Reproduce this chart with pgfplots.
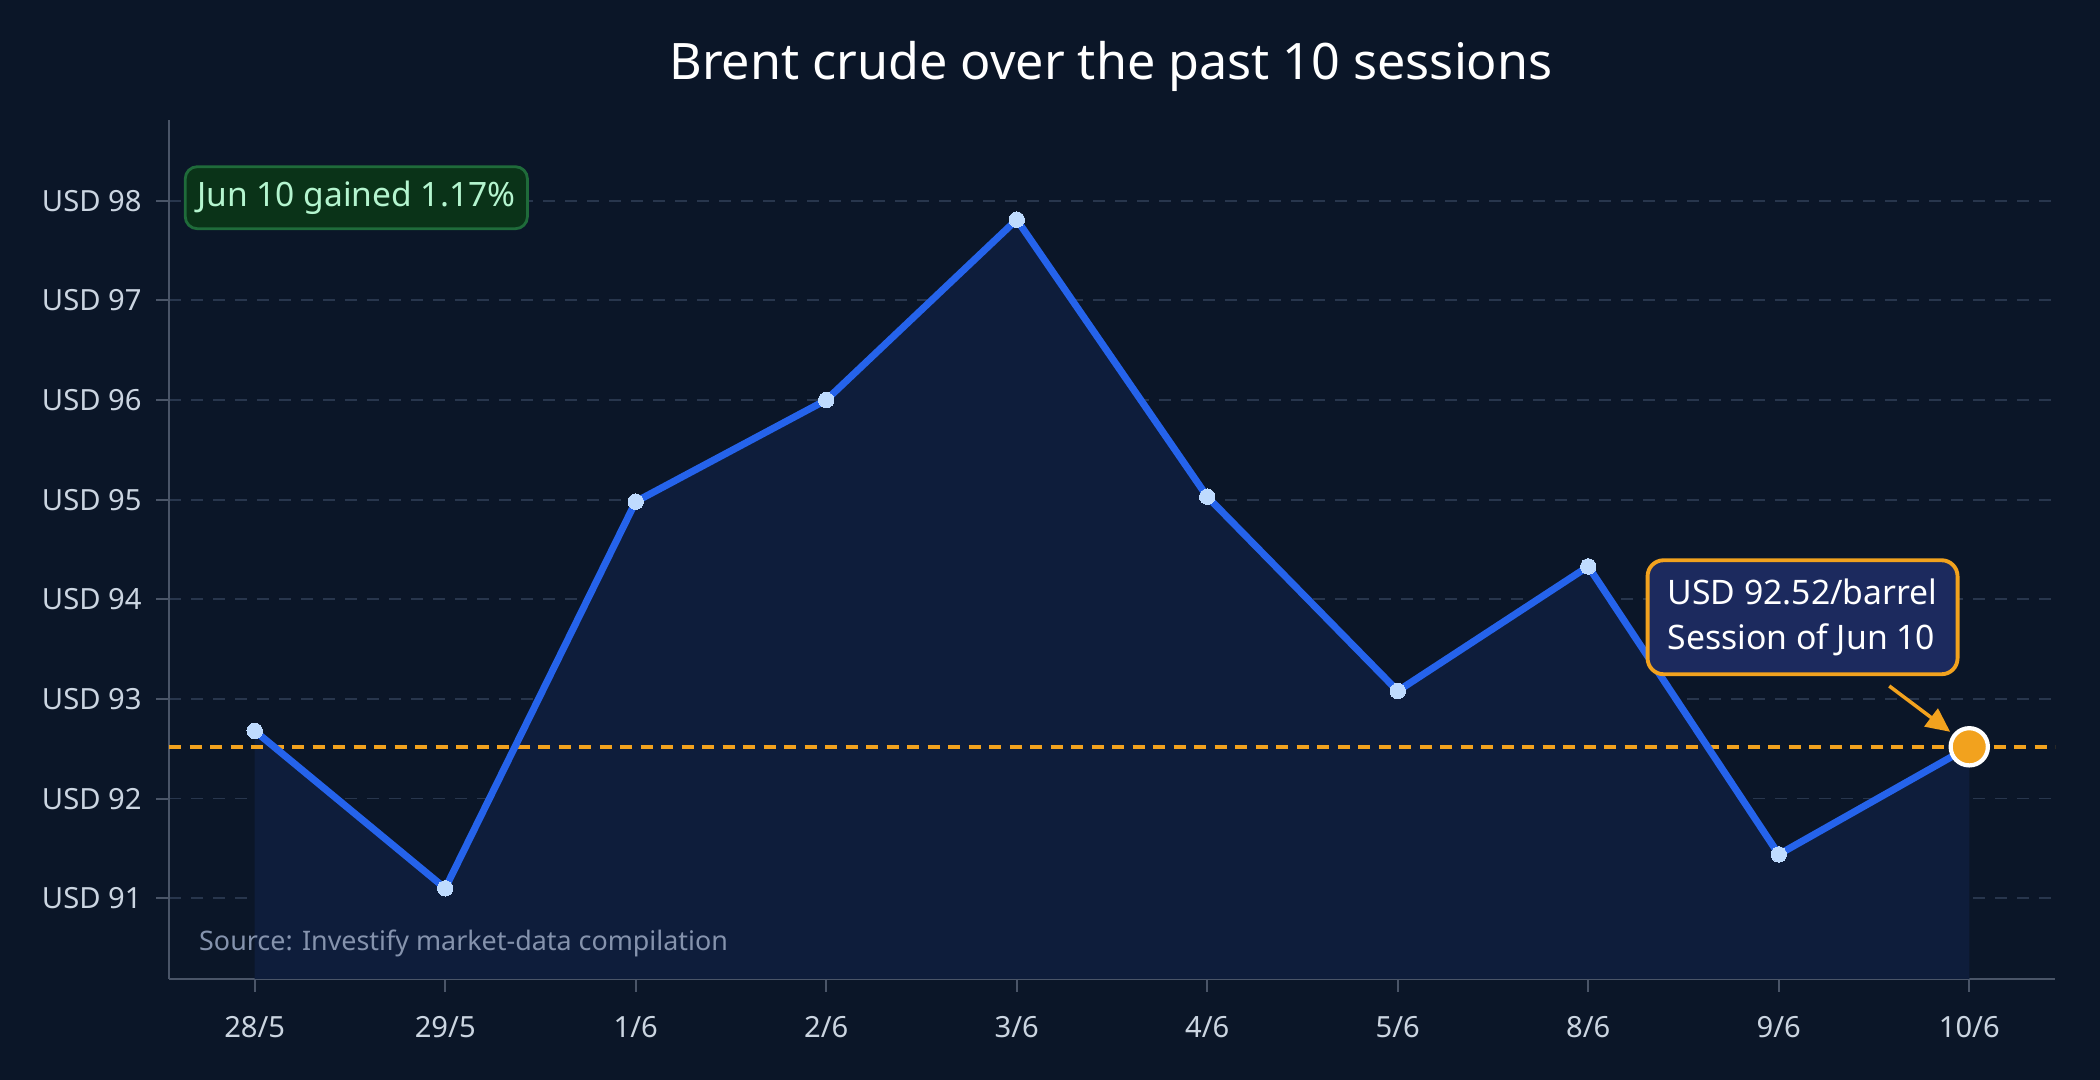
\documentclass[border=0pt]{standalone}
\usepackage{pgfplots}
\pgfplotsset{compat=1.18}
\usepackage{fontspec}
\setmainfont{Noto Sans}
\usetikzlibrary{arrows.meta}
\definecolor{bg}{HTML}{0B1628}
\definecolor{areafill}{HTML}{0E1D3B}
\definecolor{gridc}{HTML}{28364D}
\definecolor{axisc}{HTML}{4A5568}
\definecolor{linec}{HTML}{2563EB}
\definecolor{markc}{HTML}{BFDBFE}
\definecolor{amber}{HTML}{F2A21E}
\definecolor{tickc}{HTML}{CBD5E1}
\definecolor{srcc}{HTML}{8593AD}
\definecolor{gfill}{HTML}{0A3318}
\definecolor{gdraw}{HTML}{1F6B3A}
\definecolor{gtext}{HTML}{B4F5CF}
\definecolor{nfill}{HTML}{1C2A5E}
\begin{document}
\begin{tikzpicture}
\fill[bg] (0,0) rectangle (21,10.8);
\begin{axis}[
  at={(1.69cm,1.01cm)}, anchor=south west,
  scale only axis, width=18.86cm, height=8.59cm,
  xmin=-0.45, xmax=9.45, ymin=90.19, ymax=98.81,
  clip=false,
  axis lines*=left,
  axis line style={axisc, line width=0.8pt},
  xtick={0,...,9},
  xticklabels={28/5,29/5,1/6,2/6,3/6,4/6,5/6,8/6,9/6,10/6},
  ytick={91,...,98},
  yticklabels={USD 91,USD 92,USD 93,USD 94,USD 95,USD 96,USD 97,USD 98},
  tick align=outside,
  major tick length=1.3mm,
  tick style={axisc, line width=0.6pt},
  ticklabel style={font=\fontsize{8.3}{10}\selectfont, text=tickc},
  xticklabel style={yshift=-1.2mm},
  yticklabel style={xshift=-0.2mm},
  /pgf/number format/assume math mode=true,
  ymajorgrids,
  y grid style={gridc, line width=0.5pt, dash pattern=on 1.2mm off 1mm},
]
% area under the line
\addplot[draw=none, fill=areafill] coordinates {
 (0,90.19) (0,92.68) (1,91.10) (2,94.98) (3,96.00) (4,97.81) (5,95.03)
 (6,93.08) (7,94.33) (8,91.44) (9,92.52) (9,90.19)} -- cycle;
% reference line
\addplot[amber, line width=1pt, dash pattern=on 1.2mm off 0.85mm] coordinates {(-0.45,92.52) (9.45,92.52)};
% main series
\addplot[linec, line width=2pt, mark=*, mark size=2.2pt,
  mark options={fill=markc, draw=markc, line width=0pt}] coordinates {
 (0,92.68) (1,91.10) (2,94.98) (3,96.00) (4,97.81) (5,95.03)
 (6,93.08) (7,94.33) (8,91.44) (9,92.52)};
% last point highlight
\addplot[only marks, mark=*, mark size=5.3pt,
  mark options={fill=amber, draw=white, line width=1.2pt}] coordinates {(9,92.52)};
% source
\node[anchor=west, text=srcc, font=\fontsize{7.65}{9}\selectfont, inner sep=0pt] at (axis cs:-0.295,90.55) {Source: Investify market-data compilation};
% green badge
\node[anchor=west, draw=gdraw, fill=gfill, line width=0.8pt, rounded corners=1.2mm,
  text=gtext, font=\fontsize{9.55}{11}\selectfont, minimum height=6.2mm, inner xsep=1.2mm]
  at (axis cs:-0.372,98.03) {Jun 10 gained 1.17\%};
% callout
\node[draw=amber, fill=nfill, line width=1.1pt, rounded corners=1.6mm,
  text=white, font=\fontsize{9.6}{12.6}\selectfont, align=left,
  minimum width=30.8mm, minimum height=11.4mm, inner xsep=2mm]
  at (axis cs:8.125,93.82) {USD 92.52/barrel\\Session of Jun 10};
\draw[amber, line width=1pt, -{Triangle[length=2.4mm,width=2.2mm]}] (axis cs:8.58,93.13) -- (axis cs:8.90,92.67);
\end{axis}
\node[text=white, font=\fontsize{14.3}{17}\selectfont] at (11.11,10.14) {Brent crude over the past 10 sessions};
\pgfresetboundingbox
\useasboundingbox (0,0) rectangle (21,10.8);
\end{tikzpicture}
\end{document}
